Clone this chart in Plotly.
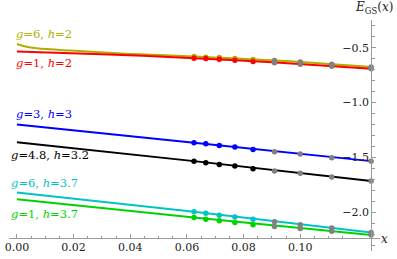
import plotly.graph_objects as go

# ---- data ----
N_sizes = [16, 15, 14, 13, 12, 11, 10, 9, 8]          # x = 1/N
n_colored = 5                                           # first five (N=16..12) coloured, rest grey

series_labels = ["<i>g</i>=6, <i>h</i>=2", "<i>g</i>=1, <i>h</i>=2", "<i>g</i>=3, <i>h</i>=3",
                 "<i>g</i>=4.8, <i>h</i>=3.2", "<i>g</i>=6, <i>h</i>=3.7", "<i>g</i>=1, <i>h</i>=3.7"]
series_colors = ["#AEAE00", "#FF0000", "#0000FF", "#000000", "#00C4C4", "#00D200"]

pts_g6h2   = [-0.579, -0.585, -0.588, -0.597, -0.606, -0.616, -0.629, -0.650, -0.675]
pts_g1h2   = [-0.594, -0.597, -0.603, -0.612, -0.625, -0.636, -0.650, -0.668, -0.691]
pts_g3h3   = [-1.366, -1.375, -1.391, -1.406, -1.427, -1.448, -1.470, -1.503, -1.534]
pts_g48h32 = [-1.534, -1.548, -1.564, -1.579, -1.603, -1.625, -1.645, -1.679, -1.715]
pts_g6h37  = [-1.997, -2.009, -2.027, -2.043, -2.064, -2.088, -2.115, -2.145, -2.185]
pts_g1h37  = [-2.048, -2.064, -2.079, -2.094, -2.115, -2.130, -2.148, -2.175, -2.209]

# fitted curves
fit_x_g6h2   = [0.0, 0.003, 0.007, 0.019, 0.04, 0.0625, 0.09, 0.125]
fit_y_g6h2   = [-0.464, -0.487, -0.503, -0.525, -0.555, -0.579, -0.613, -0.675]
fit_x_g1h2   = [0.0, 0.03, 0.0625, 0.09, 0.125]
fit_y_g1h2   = [-0.534, -0.558, -0.594, -0.632, -0.690]
fit_x_g3h3   = [0.0, 0.0625, 0.125]
fit_y_g3h3   = [-1.200, -1.366, -1.534]
fit_x_g48h32 = [0.0, 0.0625, 0.125]
fit_y_g48h32 = [-1.361, -1.534, -1.715]
fit_x_g6h37  = [0.0, 0.0625, 0.125]
fit_y_g6h37  = [-1.821, -1.997, -2.185]
fit_x_g1h37  = [0.0, 0.0625, 0.125]
fit_y_g1h37  = [-1.882, -2.048, -2.209]

# label anchor positions (data coords, left/middle)
label_x = [-0.0010, -0.0010, -0.0010, -0.0027, -0.0027, -0.0027]
label_y = [-0.370, -0.642, -1.106, -1.482, -1.737, -2.019]

x_tick_vals = [0.0, 0.02, 0.04, 0.06, 0.08, 0.10]
x_tick_text = ["0.00", "0.02", "0.04", "0.06", "0.08", "0.10"]
y_tick_vals = [-0.5, -1.0, -1.5, -2.0]
y_tick_text = ["\u22120.5", "\u22121.0", "\u22121.5", "\u22122.0"]

points = [pts_g6h2, pts_g1h2, pts_g3h3, pts_g48h32, pts_g6h37, pts_g1h37]
fits = [(fit_x_g6h2, fit_y_g6h2), (fit_x_g1h2, fit_y_g1h2), (fit_x_g3h3, fit_y_g3h3),
        (fit_x_g48h32, fit_y_g48h32), (fit_x_g6h37, fit_y_g6h37), (fit_x_g1h37, fit_y_g1h37)]

x_pts = [1.0 / n for n in N_sizes]

SERIF = "DejaVu Serif"

fig = go.Figure()
for (fx, fy), col in zip(fits, series_colors):
    fig.add_trace(go.Scatter(x=fx, y=fy, mode="lines", line=dict(color=col, width=2, shape="spline"),
                             hoverinfo="skip", showlegend=False))
for pts, col in zip(points, series_colors):
    fig.add_trace(go.Scatter(x=x_pts[:n_colored], y=pts[:n_colored], mode="markers",
                             marker=dict(color=col, size=5.5), showlegend=False))
    fig.add_trace(go.Scatter(x=x_pts[n_colored:], y=pts[n_colored:], mode="markers",
                             marker=dict(color="#808080", size=5.5), showlegend=False))

for txt, lx, ly, col in zip(series_labels, label_x, label_y, series_colors):
    fig.add_annotation(x=lx, y=ly, xref="x", yref="y", text=txt, showarrow=False,
                       xanchor="left", yanchor="middle",
                       font=dict(family=SERIF, size=11.5, color=col))

fig.add_annotation(x=0.983, y=1.052, xref="paper", yref="paper",
                   text="<i>E</i><sub>GS</sub>(<i>x</i>)", showarrow=False,
                   xanchor="center", yanchor="middle",
                   font=dict(family=SERIF, size=12, color="#222"))
fig.add_annotation(x=1.013, y=0.054, xref="paper", yref="paper",
                   text="x", showarrow=False, xanchor="center", yanchor="middle",
                   font=dict(family=SERIF, size=12, color="#222", style="italic"))

x_minor = [round(i * 0.005, 4) for i in range(0, 26) if i % 4 != 0]
y_minor = [round(-0.3 - i * 0.1, 2) for i in range(0, 21) if round(-0.3 - i * 0.1, 2) not in y_tick_vals]

axis_col = "#9a9a9a"
fig.update_layout(
    width=397, height=259,
    margin=dict(l=5, r=17, t=20, b=7),
    paper_bgcolor="white", plot_bgcolor="white",
    xaxis=dict(range=[-0.00279, 0.12814], anchor="free", position=0.0562,
               showline=True, linecolor=axis_col, linewidth=1,
               ticks="inside", ticklen=4, tickcolor=axis_col, tickwidth=1,
               tickmode="array", tickvals=x_tick_vals, ticktext=x_tick_text,
               tickfont=dict(family=SERIF, size=11, color="#222"),
               ticklabelstandoff=-1,
               showgrid=False, zeroline=False,
               minor=dict(tickmode="array", tickvals=x_minor, ticks="inside", ticklen=2.5,
                          tickcolor=axis_col, showgrid=False)),
    yaxis=dict(range=[-2.3545, -0.2455], anchor="free", position=0.976, side="left",
               showline=True, linecolor=axis_col, linewidth=1,
               ticks="inside", ticklen=4, tickcolor=axis_col, tickwidth=1,
               tickmode="array", tickvals=y_tick_vals, ticktext=y_tick_text,
               tickfont=dict(family=SERIF, size=11, color="#222"),
               showgrid=False, zeroline=False,
               minor=dict(tickmode="array", tickvals=y_minor, ticks="inside", ticklen=2.5,
                          tickcolor=axis_col, showgrid=False)),
)

fig.write_html("out.html", config={"displayModeBar": False},
               post_script="document.body.style.margin='0';document.body.style.overflow='hidden';")
